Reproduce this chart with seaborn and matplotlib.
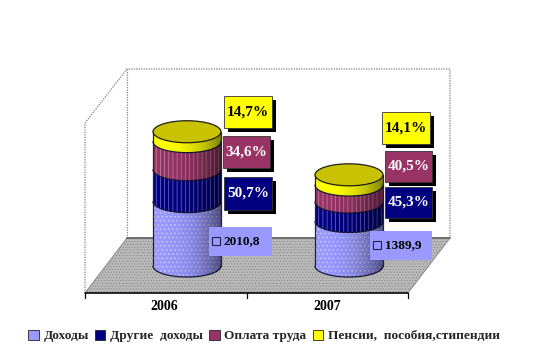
import numpy as np
import pandas as pd
import matplotlib
matplotlib.use("Agg")
import matplotlib.pyplot as plt
from matplotlib.patches import Ellipse, Polygon, Rectangle, Patch, PathPatch
from matplotlib.path import Path
import seaborn as sns

years = ["2006", "2007"]
series_names = ["Доходы", "Другие  доходы", "Оплата труда", "Пенсии,  пособия,стипендии"]
income = [2010.8, 1389.9]
other = [1000, 610]
wages = [875, 530]
pensions = [310, 320]
series_values = [income, other, wages, pensions]
colors = ["#9999ff", "#000080", "#993366", "#ffff00"]
shares = [["14,7%", "34,6%", "50,7%"], ["14,1%", "40,5%", "45,3%"]]
income_labels = ["2010,8", "1389,9"]

sns.set_theme(style="white")
plt.rcParams["font.family"] = ["Liberation Serif", "DejaVu Serif"]
plt.rcParams["hatch.linewidth"] = 0.5

W, H = 534, 362
fig = plt.figure(figsize=(W / 100, H / 100), dpi=100, facecolor="white")

# furniture layer, in pixel coordinates
bg = fig.add_axes([0, 0, 1, 1], zorder=0)
bg.set_xlim(0, W); bg.set_ylim(H, 0); bg.axis("off")
wall = dict(color="#808080", lw=0.9, ls=(0, (1, 1)))
bg.plot([85, 85, 127, 450, 450], [293, 123, 69, 69, 238], **wall)
bg.plot([127, 127], [69, 238], **wall)
bg.add_patch(Polygon([(85, 293), (127, 238), (450, 238), (408, 293)], closed=True,
                     facecolor="#bababa", edgecolor="#8a8a8a", lw=0.7, hatch="......"))
bg.plot([127, 450], [238, 238], color="#6e6e6e", lw=1.4)
bg.plot([85, 408], [293, 293], color="black", lw=1.1)
for tx in (85, 247, 408):
    bg.plot([tx, tx], [293, 298], color="black", lw=0.9)

# data layer: one category step = 162 px, 1 px = 31.25 units
ax = fig.add_axes([0, 0, 1, 1], zorder=1)
ax.patch.set_alpha(0)
px_x, px_y = 162.0, 0.032
x0_px, y0_px = 187.0, 266.0
width = 68 / px_x
ry = 11 / px_y

bottoms = np.zeros(2)
tops = []
for name, vals, col in zip(series_names, series_values, colors):
    df = pd.DataFrame({"year": years, "value": vals})
    n0 = len(ax.patches)
    sns.barplot(data=df, x="year", y="value", bottom=bottoms, color=col, saturation=1,
                width=width, ax=ax, linewidth=0, zorder=2)
    vals = np.asarray(vals, float)
    z = 3 + len(tops)
    hatch = "||||" if col in ("#000080", "#993366") else "...." if col == "#9999ff" else None
    edge = {"#000080": "#7878d8", "#993366": "#c58aa5", "#9999ff": "#d4d4ff", "#ffff00": col}[col]
    for i in range(2):
        bar = ax.patches[n0 + i]
        bar.set_zorder(z)
        bar.set_hatch(hatch)
        bar.set_edgecolor(edge)
        bar.set_linewidth(0)
        ax.add_patch(Ellipse((i, bottoms[i]), width, 2 * ry, facecolor=col, edgecolor=edge, lw=0,
                             hatch=hatch, zorder=z - 0.5))
        t = np.linspace(np.pi, 2 * np.pi, 60)
        ax.plot(i + width / 2 * np.cos(t), bottoms[i] + ry * np.sin(t), color="#1a1a3a", lw=0.9, zorder=z + 0.6)
        ax.plot([i - width / 2] * 2, [bottoms[i], bottoms[i] + vals[i]], color="#222233", lw=0.9, zorder=z + 0.6)
        ax.plot([i + width / 2] * 2, [bottoms[i], bottoms[i] + vals[i]], color="#222233", lw=0.9, zorder=z + 0.6)
    bottoms = bottoms + vals
    tops.append(bottoms.copy())

# side shading and lid of every cylinder
grad = np.linspace(0, 1, 64).reshape(1, -1) ** 2.5
for i in range(2):
    t = np.linspace(np.pi, 2 * np.pi, 60)
    xs = np.r_[i + width / 2 * np.cos(t), i + width / 2, i - width / 2]
    ys = np.r_[ry * np.sin(t), bottoms[i], bottoms[i]]
    clip = PathPatch(Path(np.c_[xs, ys]), transform=ax.transData, facecolor="none", edgecolor="none")
    ax.add_patch(clip)
    im = ax.imshow(np.dstack([np.zeros((1, 64, 3)), grad[..., None] * 0.5]),
                   extent=(i - width / 2, i + width / 2, -ry, bottoms[i]),
                   aspect="auto", zorder=7, interpolation="bilinear")
    im.set_clip_path(clip)
    ax.add_patch(Ellipse((i, bottoms[i]), width, 2 * ry, facecolor="#c9c200",
                         edgecolor="#1f1f10", lw=0.9, zorder=8))

ax.set_xlim(-x0_px / px_x, (W - x0_px) / px_x)
ax.set_ylim(-(H - y0_px) / px_y, y0_px / px_y)
ax.axis("off")

# labels layer, in pixel coordinates
fg = fig.add_axes([0, 0, 1, 1], zorder=2)
fg.patch.set_alpha(0)
fg.set_xlim(0, W); fg.set_ylim(H, 0); fg.axis("off")

for lab, tx in zip(years, (164, 327)):
    fg.text(tx, 306, lab, ha="center", va="center", fontsize=10, fontweight="bold", color="black")

boxes = [[(224, 96, 48, 32), (223, 136, 47, 32), (224, 177, 48, 33)],
         [(382, 112, 48, 32), (385, 151, 47, 31), (385, 187, 47, 31)]]
box_cols = ["#ffff00", "#993366", "#000080"]
txt_cols = ["black", "white", "white"]
for group, labels in zip(boxes, shares):
    for (bx, by, bw, bh), lab, fc, tc in zip(group, labels, box_cols, txt_cols):
        fg.add_patch(Rectangle((bx + 4, by + 4), bw, bh, facecolor="black", edgecolor="none", zorder=3))
        fg.add_patch(Rectangle((bx, by), bw, bh, facecolor=fc, edgecolor="#333333", lw=0.6, zorder=4))
        fg.text(bx + bw / 2, by + bh / 2, lab, ha="center", va="center", color=tc,
                fontsize=11, fontweight="bold", zorder=5)

for (bx, by, bw, bh), lab in zip([(209, 227, 63, 29), (370, 231, 62, 29)], income_labels):
    fg.add_patch(Rectangle((bx, by), bw, bh, facecolor="#9999ff", edgecolor="none", hatch="....",
                           lw=0, zorder=4))
    fg.add_patch(Rectangle((bx + 3, by + 10), 8, 8, facecolor="#9999ff", edgecolor="#222244", lw=0.8, zorder=5))
    fg.text(bx + 15, by + bh / 2, lab, ha="left", va="center", color="black",
            fontsize=9.5, fontweight="bold", zorder=5)

handles = [Patch(facecolor=c, edgecolor="#222222", lw=0.6) for c in colors]
fg.legend(handles, series_names, loc="center", bbox_to_anchor=(264 / W, 1 - 336 / H), ncol=4,
          frameon=False, handlelength=0.8, handleheight=0.8, handletextpad=0.35,
          columnspacing=0.45, borderpad=0, prop=dict(size=9.6, weight="bold"))

fig.savefig("out.png", dpi=100, facecolor="white")
